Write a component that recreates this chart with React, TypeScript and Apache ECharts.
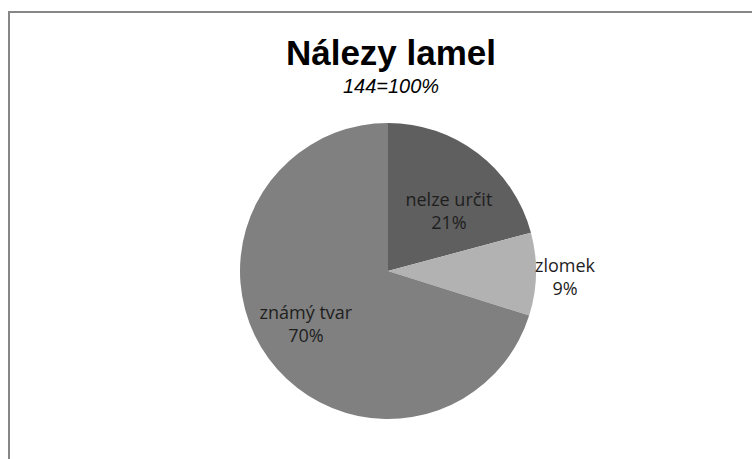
import React, { useEffect, useRef } from "react";
import * as echarts from "echarts";

const titleText = "Nálezy lamel";
const subtitleText = "144=100%";
const categories = ["nelze určit", "zlomek", "známý tvar"];
const counts = [30, 13, 101];
const colors = ["#5f5f5f", "#b2b2b2", "#808080"];
const labelPositions = ["inside", "outside", "inside"];
const labelShifts = [
  [14, 1],
  [16, 2],
  [-20, 7],
];

export default function App() {
  const ref = useRef<HTMLDivElement>(null);
  useEffect(() => {
    if (!ref.current) return;
    const chart = echarts.init(ref.current, undefined, { renderer: "svg" });
    const data = categories.map((name, i) => ({
      name,
      value: counts[i],
      itemStyle: { color: colors[i] },
      label: { position: labelPositions[i] },
    }));
    chart.setOption({
      animation: false,
      backgroundColor: "#ffffff",
      title: {
        text: titleText,
        subtext: subtitleText,
        left: 386,
        textAlign: "center",
        top: 30,
        itemGap: 6,
        textStyle: {
          fontFamily: "Liberation Sans",
          fontSize: 35,
          fontWeight: "bold",
          color: "#000000",
        },
        subtextStyle: {
          fontFamily: "Liberation Sans",
          fontSize: 20,
          fontStyle: "italic",
          color: "#000000",
        },
      },
      graphic: [
        {
          type: "polyline",
          shape: { points: [[9, 459], [9, 12], [752, 12]] },
          style: { stroke: "#878787", lineWidth: 2, fill: "none" },
          silent: true,
        },
      ],
      series: [
        {
          type: "pie",
          center: [388, 271],
          radius: 148,
          startAngle: 90,
          clockwise: true,
          data,
          label: {
            show: true,
            formatter: (p: any) => `${p.name}\n${Math.round(p.percent)}%`,
            fontFamily: "Open Sans",
            fontSize: 18,
            lineHeight: 23,
            color: "#1e1e1e",
            align: "center",
          },
          labelLine: { show: false, length: 8, length2: 0 },
          labelLayout: (params: any) => {
            const s = labelShifts[params.dataIndex];
            return { dx: s[0], dy: s[1], align: "center" };
          },
          emphasis: { disabled: true },
        },
      ],
    });
    return () => chart.dispose();
  }, []);
  return (
    <div
      ref={ref}
      style={{ position: "fixed", left: 0, top: 0, width: 752, height: 459 }}
    />
  );
}
